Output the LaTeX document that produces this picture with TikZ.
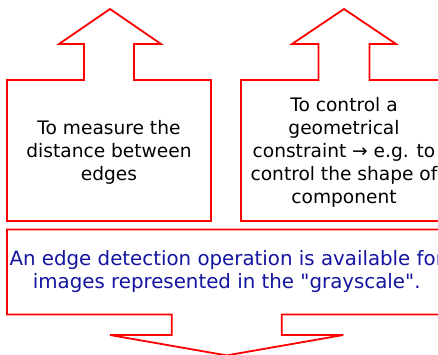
\documentclass[tikz,border=0pt]{standalone}
\usepackage{fontspec}
\setmainfont{DejaVu Sans}[Ligatures=TeXOff]
\definecolor{calloutred}{rgb}{1,0,0}
\definecolor{textblue}{RGB}{20,20,160}
\begin{document}
\begin{tikzpicture}[x=1pt,y=-1pt,
  callout/.style={draw=calloutred,line width=1.8pt,line join=miter,fill=white},
  boxtext/.style={align=center,font=\fontsize{18.6}{23}\selectfont,text=black,inner sep=0pt},
  bluetext/.style={align=center,font=\fontsize{19.8}{23}\selectfont,text=textblue,inner sep=0pt}]
\useasboundingbox (0,0) rectangle (438,354);
\begin{scope}
\clip (0,0) rectangle (438,354);
% left callout
\draw[callout] (7,221) -- (7,80) -- (84,80) -- (84,44) -- (59,44) -- (110,9) -- (161,44) -- (134,44) -- (134,80) -- (211,80) -- (211,221) -- cycle;
% right callout
\draw[callout] (241,221) -- (241,80) -- (318.5,80) -- (318.5,44) -- (292,44) -- (344,9) -- (396,44) -- (369.5,44) -- (369.5,80) -- (447,80) -- (447,221) -- cycle;
% bottom callout
\draw[callout] (7,229.5) -- (446.5,229.5) -- (446.5,314.5) -- (281.7,314.5) -- (281.7,335) -- (343.3,335) -- (226.7,355.4) -- (110,335) -- (171.7,335) -- (171.7,314.5) -- (7,314.5) -- cycle;
\node[boxtext] (measure) at (109,152) {To measure the\\distance between\\edges};
\node[boxtext] (control) at (344,152) {To control a\\geometrical\\constraint → e.g. to\\control the shape of\\component};
\node[bluetext] (edge) at (226.7,272) {An edge detection operation is available for\\images represented in the "grayscale".};
\end{scope}
\end{tikzpicture}
\end{document}
